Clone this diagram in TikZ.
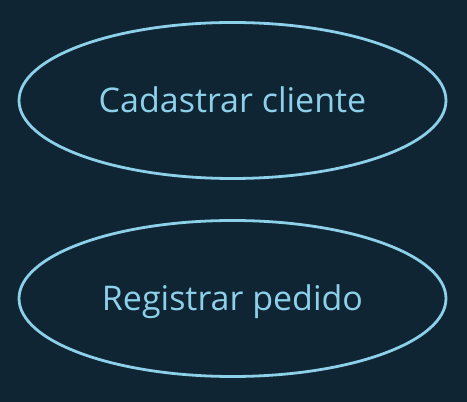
\documentclass[tikz,border=0pt]{standalone}
\usepackage{fontspec}
\setmainfont{Open Sans}
\usetikzlibrary{positioning, shapes.geometric}

\definecolor{bgdark}{HTML}{0F2533}
\definecolor{caseblue}{HTML}{8DD0EA}

\begin{document}
\begin{tikzpicture}[
  x=1pt,y=1pt,
  usecase/.style={ellipse,draw=caseblue,line width=2.8pt,text=caseblue,
    minimum width=427pt,minimum height=156pt,inner sep=0pt,
    text height=24pt,text depth=0pt,font=\fontsize{34}{40}\selectfont}
]
  \fill[bgdark] (0,0) rectangle (467,402);
  \useasboundingbox (0,0) rectangle (467,402);

  \node[usecase] (cadastro) at (232.5,301.5) {Cadastrar cliente};
  \node[usecase] (pedido)   at (232.5,103.5) {Registrar pedido};
\end{tikzpicture}
\end{document}
